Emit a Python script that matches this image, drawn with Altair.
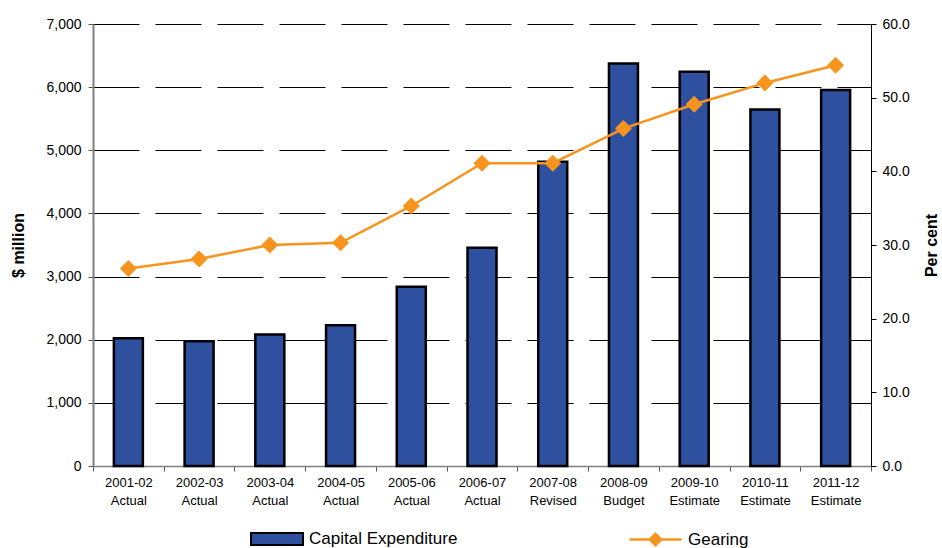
import altair as alt
import pandas as pd

years = ["2001-02", "2002-03", "2003-04", "2004-05", "2005-06", "2006-07",
         "2007-08", "2008-09", "2009-10", "2010-11", "2011-12"]
status = ["Actual", "Actual", "Actual", "Actual", "Actual", "Actual",
          "Revised", "Budget", "Estimate", "Estimate", "Estimate"]
capex = [2025, 1976, 2081, 2230, 2837, 3455, 4818, 6376, 6244, 5647, 5954]
gearing = [26.8, 28.1, 30.0, 30.3, 35.3, 41.1, 41.1, 45.8, 49.1, 52.0, 54.4]

labels = [f"{y}\n{s}" for y, s in zip(years, status)]
df = pd.DataFrame({
    "period": labels,
    "capex": capex,
    "gearing": gearing,
    "s1": "Capital Expenditure",
    "s2": "Gearing",
})

FONT = "Liberation Sans"
BLUE = "#2F4F9F"
ORANGE = "#F7941D"

x = alt.X(
    "period:N", sort=labels,
    scale=alt.Scale(paddingInner=0, paddingOuter=0),
    axis=alt.Axis(
        title=None, labelExpr="split(datum.label, '\\n')", labelAngle=0,
        tickBand="extent", tickSize=5, tickColor="#555555", domainColor="#808080",
        domainWidth=1.5, labelFontSize=13, labelLineHeight=18, labelPadding=5,
        labelColor="black", labelFont=FONT, grid=False,
    ),
)

bars = alt.Chart(df).mark_bar(size=29, stroke="black", strokeWidth=2.5).encode(
    x=x,
    y=alt.Y(
        "capex:Q", scale=alt.Scale(domain=[0, 7000]),
        axis=alt.Axis(
            title="$ million", format=",.0f", values=list(range(0, 7001, 1000)),
            grid=True, gridDash=[46, 16], gridColor="black", gridWidth=1,
            tickSize=5, tickColor="#555555", domainColor="#808080", domainWidth=2,
            labelFontSize=14, labelFont=FONT, labelColor="black", labelPadding=7,
            titleFont=FONT, titleFontSize=16, titleFontWeight="bold", titleColor="black",
            titleAngle=270, titleX=-75, titleY=221, titleAlign="center",
            titleBaseline="middle",
        ),
    ),
    fill=alt.Fill(
        "s1:N", scale=alt.Scale(range=[BLUE]),
        legend=alt.Legend(
            title=None, orient="none", legendX=157, legendY=488, padding=0,
            symbolType="M-1,-0.23H1V0.23H-1Z", symbolSize=2704,
            symbolStrokeColor="black", symbolStrokeWidth=2, symbolFillColor=BLUE,
            labelFontSize=17, labelFont=FONT, labelColor="black", labelOffset=5,
        ),
    ),
)

y2 = alt.Y(
    "gearing:Q", scale=alt.Scale(domain=[0, 60]),
    axis=alt.Axis(
        orient="right", title="Per cent", format=".1f",
        values=list(range(0, 61, 10)), grid=False,
        tickSize=5, tickColor="black", domainColor="black", domainWidth=1,
        labelFontSize=14, labelFont=FONT, labelColor="black", labelPadding=6,
        titleFont=FONT, titleFontSize=16, titleFontWeight="bold", titleColor="black",
        titleAngle=270, titleX=60, titleY=221, titleAlign="center",
        titleBaseline="middle",
    ),
)

line = alt.Chart(df).mark_line(strokeWidth=2.5).encode(
    x=x,
    y=y2,
    stroke=alt.Stroke(
        "s2:N", scale=alt.Scale(range=[ORANGE]),
        legend=alt.Legend(
            title=None, orient="none", legendX=535, legendY=488, padding=0,
            symbolType="M-1,0H1M0,-0.22L0.22,0L0,0.22L-0.22,0Z", symbolSize=2704,
            symbolStrokeColor=ORANGE, symbolStrokeWidth=2.5, symbolFillColor=ORANGE,
            labelFontSize=17, labelFont=FONT, labelColor="black", labelOffset=5,
        ),
    ),
)

points = alt.Chart(df).mark_point(
    shape="diamond", filled=True, size=290, color=ORANGE, opacity=1
).encode(
    x=x,
    y=y2,
)

chart = alt.layer(bars, alt.layer(line, points)).resolve_scale(
    y="independent", fill="independent", stroke="independent"
).properties(
    width=778, height=442,
    autosize=alt.AutoSizeParams(type="none"),
    padding={"left": 93, "top": 24, "right": 71, "bottom": 82},
    background="white",
).configure_view(stroke=None)

chart.save("out.html", embed_options={"renderer": "svg", "actions": False})
